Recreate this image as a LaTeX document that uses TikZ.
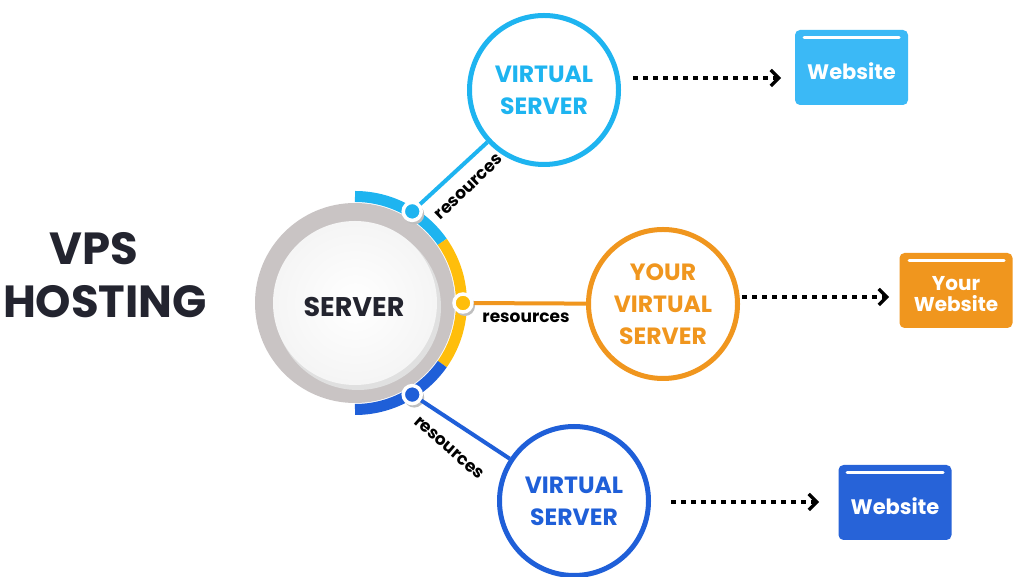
\documentclass[tikz,border=0pt]{standalone}
\usepackage{fontspec}
\setmainfont{Poppins}
\usetikzlibrary{calc,arrows.meta}
\definecolor{lblue}{HTML}{1EB4F0}
\definecolor{lbluebox}{HTML}{3BB9F6}
\definecolor{vorange}{HTML}{F0961E}
\definecolor{dblue}{HTML}{1F5FD8}
\definecolor{dbluebox}{HTML}{2763D8}
\definecolor{arcyellow}{HTML}{FFBE0B}
\definecolor{navy}{HTML}{23242F}
\definecolor{ringgray}{HTML}{C9C4C4}
\begin{document}
\begin{tikzpicture}[x=1pt,y=1pt,
  vcircle/.style={circle, draw, line width=5pt, minimum size=149pt, inner sep=0pt, align=center, font=\fontsize{23.5}{32}\selectfont\bfseries},
  webbox/.style={rounded corners=5pt, minimum width=113pt, minimum height=75pt, inner sep=0pt},
  webtext/.style={text=white, align=center, font=\fontsize{21}{21}\selectfont\bfseries},
  conn/.style={line width=4pt},
  dotarrow/.style={line width=3.5pt, dash pattern=on 4.5pt off 5.5pt, -{Straight Barb[length=8pt,width=16pt,line width=3.2pt]}},
  res/.style={font=\fontsize{17}{17}\selectfont\bfseries, text=black},
  arcseg/.style={line width=11pt},
  dotnode/.style={circle, draw=white, line width=3.5pt, minimum size=18pt, inner sep=0pt},
  bar/.style={white, line width=3pt, line cap=round}]
\useasboundingbox (0,0) rectangle (1024,577);
\fill[white] (0,0) rectangle (1024,577);

% title
\node[text=navy, font=\fontsize{45}{45}\selectfont\bfseries] (t1) at (94,328) {VPS};
\node[text=navy, font=\fontsize{45}{45}\selectfont\bfseries] (t2) at (105,275) {HOSTING};

% server
\coordinate (S) at (355,274);
\draw[arcseg, lblue] ($(S)+(90:106.5)$) arc[start angle=90, end angle=35, radius=106.5];
\draw[arcseg, arcyellow] ($(S)+(35:106.5)$) arc[start angle=35, end angle=-35, radius=106.5];
\draw[arcseg, dblue] ($(S)+(-35:106.5)$) arc[start angle=-35, end angle=-90, radius=106.5];
\fill[ringgray] (S) circle[radius=100];
\fill[black!12] ($(S)+(3,-4)$) circle[radius=83];
\shade[inner color=white, outer color=black!4] (S) circle[radius=82];
\node[text=navy, font=\fontsize{27}{27}\selectfont\bfseries] (server) at (354,270) {SERVER};

% virtual servers
\node[vcircle, draw=lblue, text=lblue] (v1) at (544,487) {VIRTUAL\\SERVER};
\node[vcircle, draw=vorange, text=vorange] (v2) at (663,273) {YOUR\\VIRTUAL\\SERVER};
\node[vcircle, draw=dblue, text=dblue] (v3) at (574,76) {VIRTUAL\\SERVER};

% dots
\fill[black!25] ($(S)+(58:108)+(2,-3)$) circle[radius=10];
\fill[black!25] ($(S)+(0:108)+(2,-3)$) circle[radius=10];
\fill[black!25] ($(S)+(-58:108)+(2,-3)$) circle[radius=10];
\node[dotnode, fill=lblue] (d1) at ($(S)+(58:108)$) {};
\node[dotnode, fill=arcyellow] (d2) at ($(S)+(0:108)$) {};
\node[dotnode, fill=dblue] (d3) at ($(S)+(-58:108)$) {};

% connectors
\draw[conn, lblue] (d1) -- (v1);
\draw[conn, vorange] (d2) -- (v2);
\draw[conn, dblue] (d3) -- (v3);

\node[res, rotate=44] (r1) at (469,390) {resources};
\node[res] (r2) at (526,259) {resources};
\node[res, rotate=-41] (r3) at (449,129) {resources};

% website boxes
\node[webbox, fill=lbluebox] (w1) at (851.5,509.5) {};
\draw[bar] (804,539) -- (899,539);
\node[webtext] (w1t) at (851.5,506) {Website};
\node[webbox, fill=vorange] (w2) at (956,286.5) {};
\draw[bar] (909,316) -- (1004,316);
\node[webtext, font=\fontsize{20}{21}\selectfont\bfseries] (w2t) at (956,283) {Your\\Website};
\node[webbox, fill=dbluebox] (w3) at (895,74.5) {};
\draw[bar] (847,104) -- (943,104);
\node[webtext] (w3t) at (895,71) {Website};

% dotted arrows
\coordinate (a1s) at (633,499); \coordinate (a1e) at (781,499);
\coordinate (a2s) at (742,280); \coordinate (a2e) at (889,280);
\coordinate (a3s) at (671,75);  \coordinate (a3e) at (819,75);
\draw[dotarrow] (a1s) -- (a1e);
\draw[dotarrow] (a2s) -- (a2e);
\draw[dotarrow] (a3s) -- (a3e);
\end{tikzpicture}
\end{document}
